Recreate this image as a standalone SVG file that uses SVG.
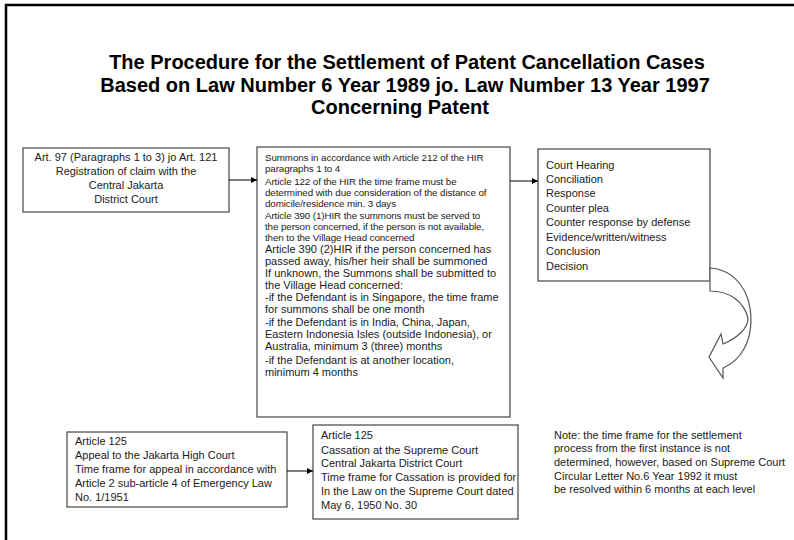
<svg xmlns="http://www.w3.org/2000/svg" width="794" height="540" viewBox="0 0 794 540">
  <defs>
    <marker id="arrow" viewBox="0 0 10 10" refX="10" refY="5" markerWidth="7" markerHeight="6" markerUnits="userSpaceOnUse" orient="auto">
      <path d="M0,0 L10,5 L0,10 z" fill="#000"/>
    </marker>
    <style>
      .box { fill: #fff; stroke: #444; stroke-width: 1.2; }
      .frame { fill: none; stroke: #000; stroke-width: 2.5; }
      .title { font-family: "Liberation Sans", Arial, sans-serif; font-size: 20px; font-weight: bold; fill: #000; text-anchor: middle; }
      .t { font-family: "Liberation Sans", Arial, sans-serif; font-size: 11px; fill: #1a1a1a; }
      .tc { font-family: "Liberation Sans", Arial, sans-serif; font-size: 9.8px; fill: #1a1a1a; letter-spacing: -0.1px; }
      .mid { text-anchor: middle; }
      .conn { fill: none; stroke: #000; stroke-width: 1; }
      .curve { fill: #fff; stroke: #555; stroke-width: 1.2; stroke-linejoin: miter; }
    </style>
  </defs>

  <rect width="794" height="540" fill="#fff"/>
  <!-- page frame: only top and left edges fall inside the view -->
  <path class="frame" d="M6,540 L6,5 L794,5"/>

  <g id="title">
    <text class="title" x="407" y="69">The Procedure for the Settlement of Patent Cancellation Cases</text>
    <text class="title" x="405" y="92">Based on Law Number 6 Year 1989 jo. Law Number 13 Year 1997</text>
    <text class="title" x="400" y="114">Concerning Patent</text>
  </g>

  <g id="registration">
    <rect class="box" x="23" y="148" width="206" height="64"/>
    <text class="t mid" x="126" y="161">Art. 97 (Paragraphs 1 to 3) jo Art. 121</text>
    <text class="t mid" x="126" y="175">Registration of claim with the</text>
    <text class="t mid" x="126" y="189">Central Jakarta</text>
    <text class="t mid" x="126" y="203">District Court</text>
  </g>

  <g id="summons">
    <rect class="box" x="257" y="147" width="253" height="270"/>
    <text class="tc" x="265" y="161">Summons in accordance with Article 212 of the HIR</text>
    <text class="tc" x="265" y="172">paragraphs 1 to 4</text>
    <text class="tc" x="265" y="185">Article 122 of the HIR the time frame must be</text>
    <text class="tc" x="265" y="196">determined with due consideration of the distance of</text>
    <text class="tc" x="265" y="207">domicile/residence min. 3 days</text>
    <text class="tc" x="265" y="219">Article 390 (1)HIR the summons must be served to</text>
    <text class="tc" x="265" y="230">the person concerned, if the person is not available,</text>
    <text class="tc" x="265" y="241">then to the Village Head concerned</text>
    <text class="t" x="265" y="253">Article 390  (2)HIR  if the person concerned has</text>
    <text class="t" x="265" y="265">passed away, his/her heir shall be summoned</text>
    <text class="t" x="265" y="277">If unknown, the Summons shall be submitted to</text>
    <text class="t" x="265" y="289">the Village Head  concerned:</text>
    <text class="t" x="265" y="301">-if the Defendant is in Singapore, the time frame</text>
    <text class="t" x="265" y="313">for summons shall be one month</text>
    <text class="t" x="265" y="326">-if the Defendant is in India, China, Japan,</text>
    <text class="t" x="265" y="338">Eastern Indonesia Isles (outside Indonesia), or</text>
    <text class="t" x="265" y="350">Australia, minimum 3 (three)  months</text>
    <text class="t" x="265" y="364">-if the Defendant is at another location,</text>
    <text class="t" x="265" y="376">minimum 4 months</text>
  </g>

  <g id="hearing">
    <rect class="box" x="538" y="149" width="172" height="132"/>
    <text class="t" x="546" y="169">Court Hearing</text>
    <text class="t" x="546" y="183">Conciliation</text>
    <text class="t" x="546" y="197">Response</text>
    <text class="t" x="546" y="212">Counter plea</text>
    <text class="t" x="546" y="226">Counter response by defense</text>
    <text class="t" x="546" y="241">Evidence/written/witness</text>
    <text class="t" x="546" y="255">Conclusion</text>
    <text class="t" x="546" y="270">Decision</text>
  </g>

  <g id="appeal">
    <rect class="box" x="67" y="432" width="220" height="75"/>
    <text class="t" x="75" y="445">Article 125</text>
    <text class="t" x="75" y="459">Appeal to the Jakarta High Court</text>
    <text class="t" x="75" y="473">Time frame for appeal in accordance with</text>
    <text class="t" x="75" y="487">Article 2 sub-article 4 of Emergency Law</text>
    <text class="t" x="75" y="501">No. 1/1951</text>
  </g>

  <g id="cassation">
    <rect class="box" x="313" y="425" width="205" height="94"/>
    <text class="t" x="321" y="439">Article 125</text>
    <text class="t" x="321" y="454">Cassation at the Supreme Court</text>
    <text class="t" x="321" y="467">Central Jakarta District Court</text>
    <text class="t" x="321" y="481">Time frame for Cassation is provided for</text>
    <text class="t" x="321" y="495">In the Law on the Supreme Court dated</text>
    <text class="t" x="321" y="509">May 6, 1950 No. 30</text>
  </g>

  <g id="note">
    <text class="t" x="554" y="439">Note: the time frame for the settlement</text>
    <text class="t" x="554" y="452">process from the first instance is not</text>
    <text class="t" x="554" y="466">determined, however, based on Supreme Court</text>
    <text class="t" x="554" y="480">Circular Letter No.6 Year 1992  it must</text>
    <text class="t" x="554" y="493">be resolved within 6  months at each level</text>
  </g>

  <g id="connectors">
    <line class="conn" x1="229" y1="180" x2="257" y2="180" marker-end="url(#arrow)"/>
    <line class="conn" x1="510" y1="181" x2="538" y2="181" marker-end="url(#arrow)"/>
    <line class="conn" x1="287" y1="471" x2="313" y2="471" marker-end="url(#arrow)"/>
    <!-- curved block arrow leaving the hearing box and turning down-left -->
    <path class="curve" d="M710,268 C736,270 751,292 751,320 C751,343 740,361 723,368 L723,378 L709,357 L721,334 L723,344 C738,338 748,328 748,318 C744,302 730,291 710,291 Z"/>
  </g>
</svg>
